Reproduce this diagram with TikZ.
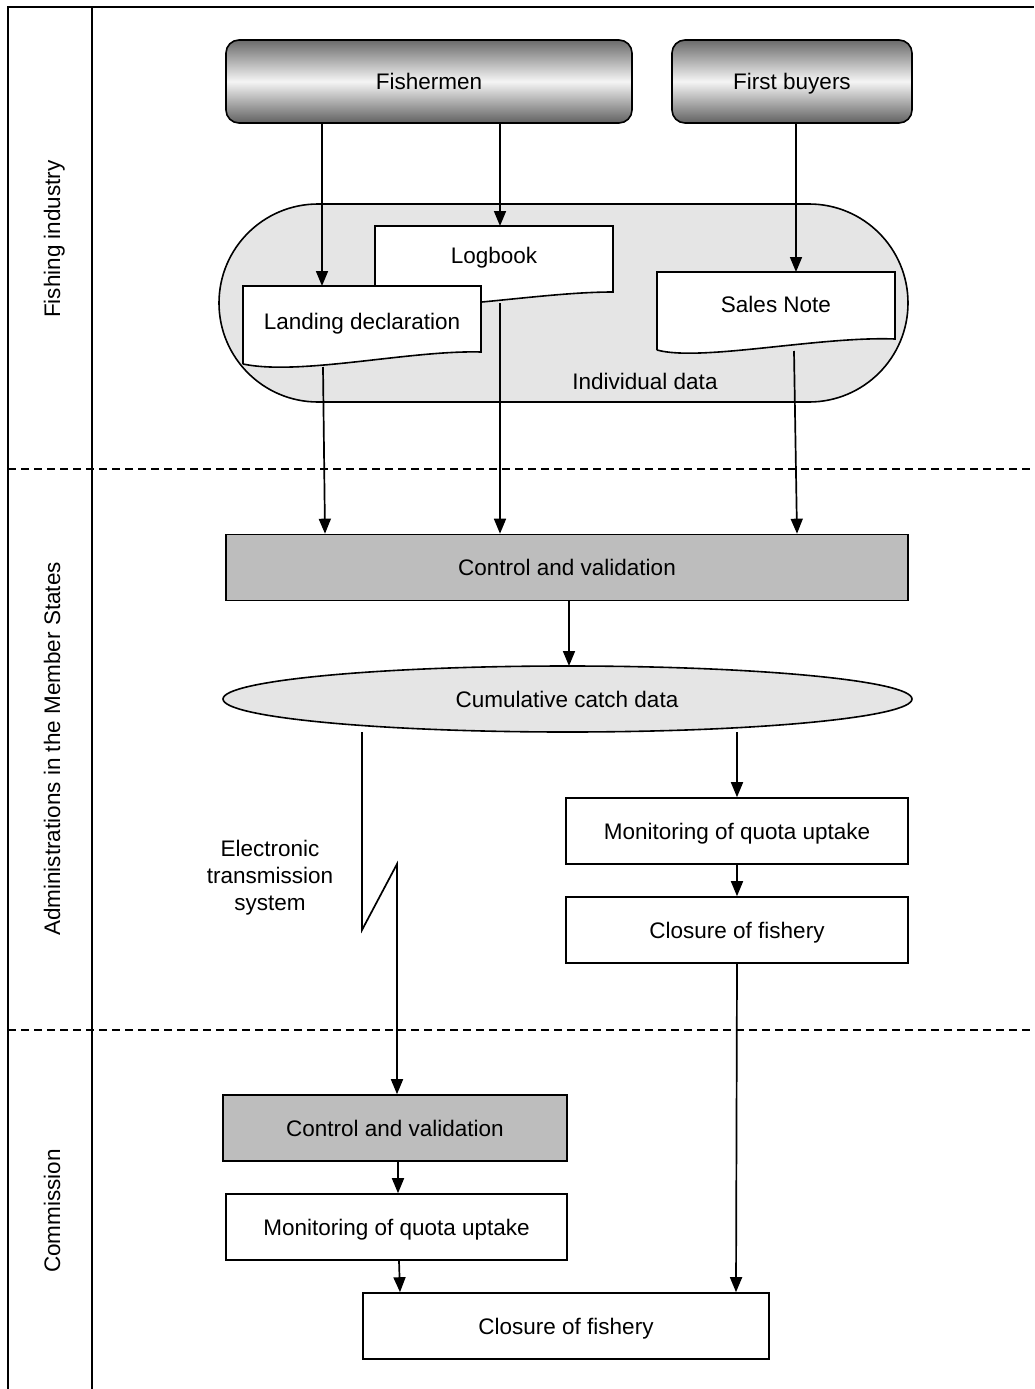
\documentclass[tikz,border=0pt]{standalone}
\usepackage{fontspec}
\setmainfont{Liberation Sans}
\usetikzlibrary{arrows.meta}
\begin{document}
\begin{tikzpicture}[x=1pt,y=-1pt,
  txt/.style={font=\fontsize{22.5}{27}\selectfont, inner sep=0pt, text height=20pt, text depth=4pt},
  ln/.style={line width=1.6pt},
  arr/.style={line width=1.7pt, -{Triangle[length=15pt,width=12pt]}},
  frame/.style={line width=2.2pt},
  sep/.style={line width=2.6pt, dash pattern=on 8pt off 5pt},
  gbox/.style={txt, draw, line width=1.6pt, rounded corners=13pt, top color=black!58, bottom color=black!62, middle color=white!96!black},
  wbox/.style={txt, draw, line width=1.6pt, fill=white},
  graybox/.style={txt, draw, line width=1.6pt, fill=black!26},
  docshape/.style={draw, line width=1.6pt, fill=white},
  cloud/.style={draw, line width=1.6pt, fill=black!10},
  lane/.style={txt, rotate=90}
]
\useasboundingbox (0,0) rectangle (1034,1389);
\fill[white] (0,0) rectangle (1034,1389);

% frame
\draw[frame] (8,1389) -- (8,7) -- (1034,7);
\draw[frame] (92,7) -- (92,1389);
\draw[sep] (8,469) -- (1034,469);
\draw[sep] (8,1030) -- (1034,1030);

% lane labels
\node[lane] (lane1) at (52,239) {Fishing industry};
\node[lane] (lane2) at (52,749) {Administrations in the Member States};
\node[lane] (lane3) at (52,1211) {Commission};

% top actors
\node[gbox, minimum width=406pt, minimum height=83pt] (fish) at (429,81.5) {Fishermen};
\node[gbox, minimum width=240pt, minimum height=83pt] (buy) at (792,81.5) {First buyers};

% individual data stadium
\draw[cloud, rounded corners=99pt] (219,204) rectangle (908,402);
\node[txt] (ind) at (645,381) {Individual data};

% Logbook document
\draw[docshape] (375,305) -- (375,226) -- (613,226) -- (613,292)
  .. controls (540,292) and (440,312) .. (375,305);
\node[txt] (lb) at (494,255) {Logbook};
% Landing declaration document
\draw[docshape] (243,364) -- (243,286) -- (481,286) -- (481,352)
  .. controls (410,350) and (300,376) .. (243,364);
\node[txt] (ld) at (362,321) {Landing declaration};
% Sales note document
\draw[docshape] (657,350) -- (657,272) -- (895,272) -- (895,339)
  .. controls (820,336) and (700,362) .. (657,350);
\node[txt] (sn) at (776,304) {Sales Note};

\coordinate (ldtop) at (322,286);
\coordinate (lbtop) at (500,226);
\coordinate (sntop) at (796,272);
\coordinate (ldbot) at (323,367);
\coordinate (lbbot) at (500,303);
\coordinate (snbot) at (794,351);

% middle boxes
\node[graybox, minimum width=682pt, minimum height=66pt] (cv1) at (567,567.5) {Control and validation};
\draw[cloud] (567.5,699) ellipse [x radius=344.5, y radius=33];
\node[txt] (cum) at (567,699) {Cumulative catch data};
\node[wbox, minimum width=342pt, minimum height=66pt] (mon1) at (737,831) {Monitoring of quota uptake};
\node[wbox, minimum width=342pt, minimum height=66pt] (clo1) at (737,930) {Closure of fishery};
\node[txt, align=center, text height=, text depth=] (ets) at (270,878) {Electronic\\transmission\\system};

% commission boxes
\node[graybox, minimum width=344pt, minimum height=66pt] (cv2) at (395,1128) {Control and validation};
\node[wbox, minimum width=341pt, minimum height=66pt] (mon2) at (396.5,1227) {Monitoring of quota uptake};
\node[wbox, minimum width=406pt, minimum height=66pt] (clo2) at (566,1326) {Closure of fishery};

% arrows
\draw[arr] (fish.south -| ldtop) -- (ldtop);
\draw[arr] (fish.south -| lbtop) -- (lbtop);
\draw[arr] (buy.south -| sntop) -- (sntop);
\draw[arr] (ldbot) -- (cv1.north -| 325,0);
\draw[arr] (lbbot) -- (cv1.north -| lbbot);
\draw[arr] (snbot) -- (cv1.north -| 797,0);
\draw[arr] (cv1.south -| 569,0) -- (569,666);
\coordinate (cumR) at (737,732);
\draw[arr] (cumR) -- (mon1.north -| cumR);
\draw[arr] (mon1.south) -- (clo1.north);
\draw[arr] (clo1.south) -- (clo2.north -| 736,0);
\coordinate (cumL) at (362,732);
\coordinate (zz1) at (362,930);
\coordinate (zz2) at (397,864);
\draw[arr] (cumL) -- (zz1) -- (zz2) -- (cv2.north -| zz2);
\draw[arr] (cv2.south -| 398,0) -- (mon2.north -| 398,0);
\draw[arr] (mon2.south -| 399,0) -- (clo2.north -| 400,0);
\end{tikzpicture}
\end{document}
